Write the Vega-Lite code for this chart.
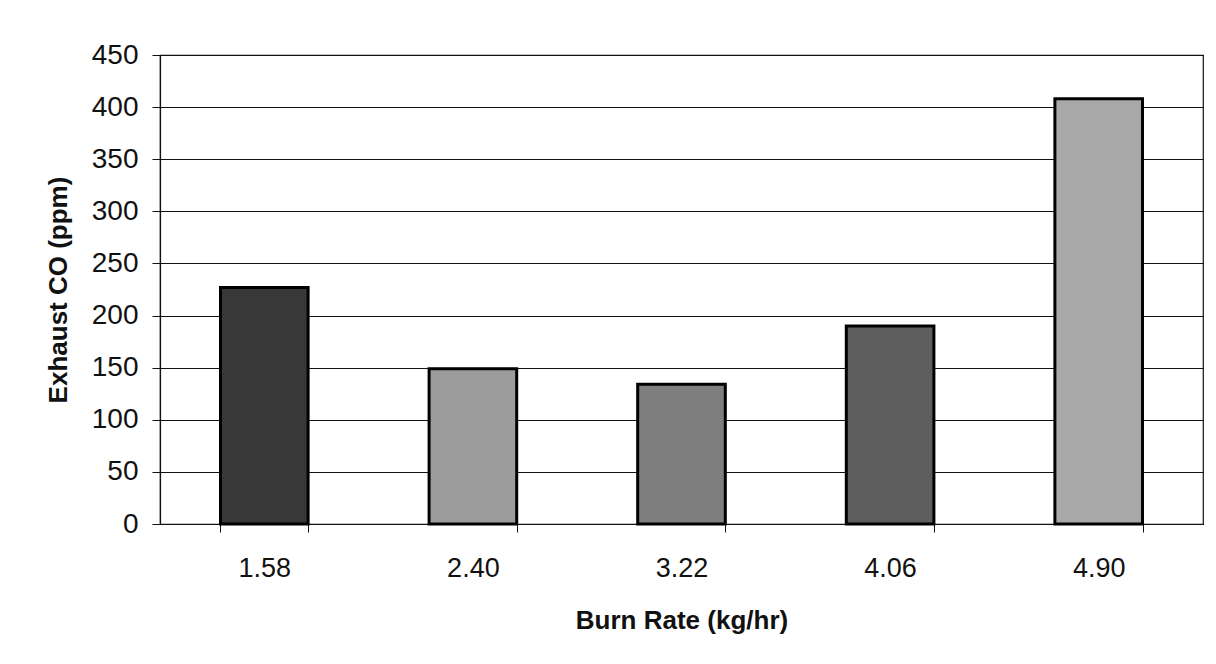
{
  "$schema": "https://vega.github.io/schema/vega-lite/v6.json",
  "autosize": "none",
  "width": 1043,
  "height": 469,
  "padding": {"left": 160, "top": 55, "right": 13, "bottom": 140},
  "background": "white",
  "config": {
    "font": "Liberation Sans",
    "view": {"stroke": "#111", "strokeWidth": 1.2},
    "axis": {"labelFont": "Liberation Sans", "titleFont": "Liberation Sans", "labelColor": "#111", "titleColor": "#111"}
  },
  "data": {
    "values": [
      {"rate": "1.58", "co": 227},
      {"rate": "2.40", "co": 149},
      {"rate": "3.22", "co": 134},
      {"rate": "4.06", "co": 190},
      {"rate": "4.90", "co": 408}
    ]
  },
  "mark": {"type": "bar", "stroke": "#000", "strokeWidth": 3},
  "encoding": {
    "x": {
      "field": "rate",
      "type": "nominal",
      "sort": null,
      "scale": {"paddingInner": 0.58, "paddingOuter": 0.29},
      "axis": {
        "title": "Burn Rate (kg/hr)",
        "titleFontSize": 26,
        "titleFontWeight": "bold",
        "titlePadding": 26,
        "labelFontSize": 27,
        "labelAngle": 0,
        "labelPadding": 23,
        "tickBand": "extent",
        "tickSize": 8,
        "tickColor": "#111",
        "domainColor": "#111",
        "domainWidth": 1.2,
        "grid": false
      }
    },
    "y": {
      "field": "co",
      "type": "quantitative",
      "scale": {"domain": [0, 450], "nice": false},
      "axis": {
        "title": "Exhaust CO (ppm)",
        "titleFontSize": 26,
        "titleFontWeight": "bold",
        "titlePadding": 20,
        "values": [0, 50, 100, 150, 200, 250, 300, 350, 400, 450],
        "labelFontSize": 28,
        "labelPadding": 14,
        "tickSize": 8,
        "tickColor": "#111",
        "domainColor": "#111",
        "domainWidth": 1.2,
        "grid": true,
        "gridColor": "#111",
        "gridOpacity": 1,
        "gridWidth": 1.2
      }
    },
    "color": {
      "field": "rate",
      "type": "nominal",
      "scale": {"domain": ["1.58", "2.40", "3.22", "4.06", "4.90"], "range": ["#383838", "#9c9c9c", "#7e7e7e", "#5e5e5e", "#a8a8a8"]},
      "legend": null
    }
  }
}
